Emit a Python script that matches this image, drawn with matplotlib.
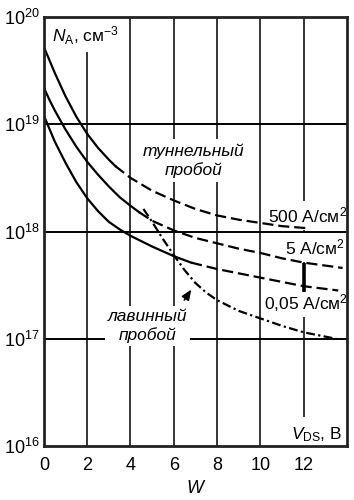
import matplotlib.pyplot as plt
import numpy as np

plt.rcParams['font.family'] = ['Liberation Sans', 'DejaVu Sans']
plt.rcParams['mathtext.fontset'] = 'custom'
plt.rcParams['mathtext.rm'] = 'Liberation Sans'
plt.rcParams['mathtext.it'] = 'Liberation Sans:italic'

# значения читаются с картинки: lg N_A против V_DS
x_ticks = [0, 2, 4, 6, 8, 10, 12]
y_exp = [16, 17, 18, 19, 20]

# 500 А/см2: сплошная часть и штриховая
j500_x = [0, 0.25, 0.5, 1.0, 1.5, 2.0, 2.5, 3.0, 3.3]
j500_y = [19.72, 19.60, 19.48, 19.26, 19.07, 18.91, 18.78, 18.67, 18.61]
j500_dx = [3.3, 4, 5, 6, 7, 8, 9, 10, 11, 12.2]
j500_dy = [18.61, 18.50, 18.38, 18.29, 18.21, 18.15, 18.11, 18.08, 18.05, 18.03]

# 5 А/см2
j5_x = [0, 0.25, 0.5, 1.0, 1.5, 2.0, 2.5, 3.0, 3.5, 4.0, 4.4]
j5_y = [19.34, 19.23, 19.13, 18.95, 18.79, 18.65, 18.53, 18.42, 18.32, 18.24, 18.18]
j5_dx = [4.4, 5, 6, 7, 8, 9, 10, 11, 12, 13.8]
j5_dy = [18.18, 18.10, 18.01, 17.94, 17.89, 17.84, 17.80, 17.75, 17.71, 17.66]

# 0,05 А/см2
j005_x = [0, 0.25, 0.5, 1.0, 1.5, 2.0, 2.5, 3.0, 3.5, 4.0, 5.0, 6.0, 6.8]
j005_y = [19.08, 18.96, 18.84, 18.64, 18.46, 18.31, 18.19, 18.09, 18.02, 17.96, 17.86, 17.77, 17.71]
j005_dx = [6.8, 8, 9, 10, 11, 12, 13.6]
j005_dy = [17.71, 17.65, 17.61, 17.57, 17.53, 17.49, 17.45]

# лавинный пробой (штрихпунктир)
aval_x = [4.6, 5.0, 5.5, 6.0, 6.5, 7.0, 7.5, 8.0, 9.0, 10.0, 11.0, 12.0, 13.5]
aval_y = [18.21, 18.09, 17.93, 17.78, 17.64, 17.52, 17.43, 17.36, 17.26, 17.19, 17.12, 17.06, 17.00]

# отрезок на V=12 между кривыми 5 и 0,05
bar_x = 12
bar_y = [17.71, 17.44]

# стрелка к кривой лавинного пробоя
arrow_tip = (6.88, 17.48)
arrow_tail = (6.42, 17.34)

fig = plt.figure(figsize=(3.54, 5.0), dpi=100)
ax = fig.add_axes([0.124, 0.108, 0.856, 0.858])
ax.set_yscale('log')

def p(v):
    return [10.0 ** e for e in v]

for x in x_ticks[1:]:
    ax.axvline(x, color='black', lw=1.1, zorder=1)
for e in y_exp[1:-1]:
    ax.axhline(10.0 ** e, color='black', lw=1.4, zorder=1)

lw = 1.6
ax.plot(j500_x, p(j500_y), color='black', lw=lw, zorder=3)
ax.plot(j500_dx, p(j500_dy), color='black', lw=lw, dashes=(5, 2.2), zorder=3)
ax.plot(j5_x, p(j5_y), color='black', lw=lw, zorder=3)
ax.plot(j5_dx, p(j5_dy), color='black', lw=lw, dashes=(5, 2.2), zorder=3)
ax.plot(j005_x, p(j005_y), color='black', lw=lw, zorder=3)
ax.plot(j005_dx, p(j005_dy), color='black', lw=lw, dashes=(5, 2.2), zorder=3)
ax.plot(aval_x, p(aval_y), color='black', lw=lw, dashes=(4, 1.5, 1, 1.5), zorder=3)

ax.vlines(bar_x, *p(bar_y), color='black', lw=2.6, zorder=3)

ax.annotate('', xy=(arrow_tip[0], 10 ** arrow_tip[1]),
            xytext=(arrow_tail[0], 10 ** arrow_tail[1]),
            arrowprops=dict(arrowstyle='-|>,head_length=0.6,head_width=0.25',
                            color='black', lw=1.2), zorder=3)

box = dict(facecolor='white', edgecolor='none')
fs = 13
fl = 12.5
ax.text(0.37, 10 ** 19.83, r'$\mathit{N}_{\mathrm{A}}$, см$^{-3}$', fontsize=fl,
        ha='left', va='center', zorder=2, bbox=dict(box, pad=4))
ax.text(6.93, 10 ** 18.66, 'туннельный\nпробой', fontsize=fl, style='italic',
        ha='center', va='center', linespacing=1.25, zorder=2, bbox=dict(box, pad=3))
ax.text(4.8, 10 ** 17.12, 'лавинный\nпробой', fontsize=fl, style='italic',
        ha='center', va='center', linespacing=1.25, zorder=2, bbox=dict(box, pad=2))
ax.text(12.17, 10 ** 18.15, '500 А/см$^{2}$', fontsize=fl,
        ha='center', va='center', zorder=2, bbox=dict(box, pad=3))
ax.text(12.52, 10 ** 17.85, '5 А/см$^{2}$', fontsize=fl,
        ha='center', va='center', zorder=2, bbox=dict(box, pad=3))
ax.text(12.12, 10 ** 17.33, '0,05 А/см$^{2}$', fontsize=fl,
        ha='center', va='center', zorder=2, bbox=dict(box, pad=2))
ax.text(12.58, 10 ** 16.11, r'$\mathit{V}_{\mathrm{DS}}$, В', fontsize=fl,
        ha='center', va='center', zorder=2, bbox=dict(box, pad=6))

ax.set_xlim(0, 14)
ax.set_ylim(10.0 ** y_exp[0], 10.0 ** y_exp[-1])
ax.set_xticks(x_ticks)
ax.set_xticklabels([str(v) for v in x_ticks], fontsize=fs)
ax.set_yticks([10.0 ** e for e in y_exp])
ax.set_yticklabels([r'$10^{%d}$' % e for e in y_exp], fontsize=fs)
ax.minorticks_off()
ax.tick_params(axis='x', length=0, pad=8)
ax.tick_params(axis='y', length=0, pad=3)
ax.set_xlabel('W', fontsize=fs, style='italic', labelpad=4)

for s in ax.spines.values():
    s.set_linewidth(2)
    s.set_color('#222222')
    s.set_zorder(4)

fig.savefig('out.png', dpi=100)
